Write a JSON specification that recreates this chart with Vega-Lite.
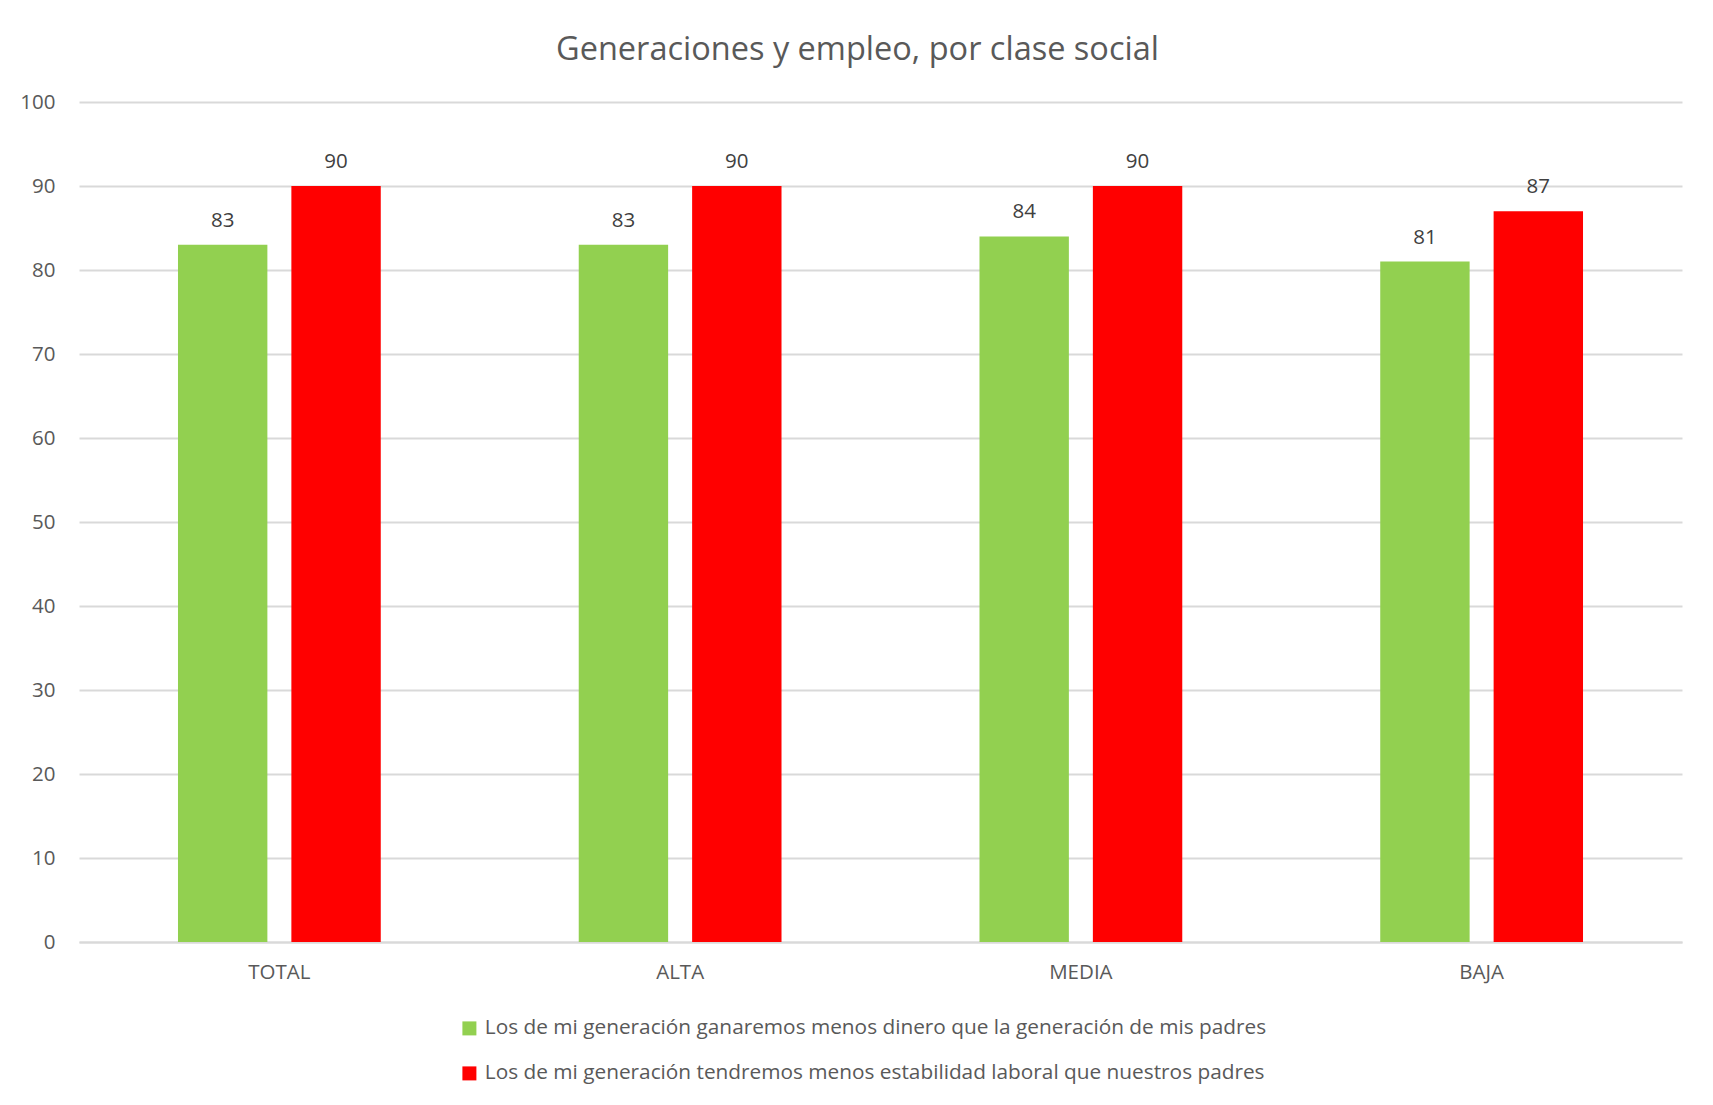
{
  "$schema": "https://vega.github.io/schema/vega-lite/v6.json",
  "width": 1603,
  "height": 840,
  "autosize": {"type": "none"},
  "padding": {"left": 79, "top": 102, "right": 31, "bottom": 163},
  "background": "white",
  "config": {"view": {"stroke": null}},
  "title": {"text": "Generaciones y empleo, por clase social", "fontSize": 32.5, "font": "Open Sans", "fontWeight": "normal", "color": "#595959", "dx": -23, "offset": 26, "anchor": "middle"},
  "data": {"values": [
    {"clase": "TOTAL", "serie": "Los de mi generación ganaremos menos dinero que la generación de mis padres", "valor": 83},
    {"clase": "TOTAL", "serie": "Los de mi generación tendremos menos estabilidad laboral que nuestros padres", "valor": 90},
    {"clase": "ALTA", "serie": "Los de mi generación ganaremos menos dinero que la generación de mis padres", "valor": 83},
    {"clase": "ALTA", "serie": "Los de mi generación tendremos menos estabilidad laboral que nuestros padres", "valor": 90},
    {"clase": "MEDIA", "serie": "Los de mi generación ganaremos menos dinero que la generación de mis padres", "valor": 84},
    {"clase": "MEDIA", "serie": "Los de mi generación tendremos menos estabilidad laboral que nuestros padres", "valor": 90},
    {"clase": "BAJA", "serie": "Los de mi generación ganaremos menos dinero que la generación de mis padres", "valor": 81},
    {"clase": "BAJA", "serie": "Los de mi generación tendremos menos estabilidad laboral que nuestros padres", "valor": 87}
  ]},
  "encoding": {
    "x": {"field": "clase", "type": "nominal", "sort": ["TOTAL", "ALTA", "MEDIA", "BAJA"],
      "scale": {"paddingInner": 0.494, "paddingOuter": 0.247},
      "axis": {"title": null, "labelAngle": 0, "ticks": false, "domainColor": "#D9D9D9", "domainWidth": 2, "labelPadding": 20, "labelFontSize": 20.5, "labelColor": "#595959", "labelFont": "Open Sans"}},
    "xOffset": {"field": "serie", "type": "nominal",
      "sort": ["Los de mi generación ganaremos menos dinero que la generación de mis padres", "Los de mi generación tendremos menos estabilidad laboral que nuestros padres"],
      "scale": {"paddingInner": 0.2116, "paddingOuter": 0}},
    "y": {"field": "valor", "type": "quantitative", "scale": {"domain": [0, 100], "nice": false},
      "axis": {"title": null, "values": [0, 10, 20, 30, 40, 50, 60, 70, 80, 90, 100], "domain": false, "ticks": false, "gridColor": "#D9D9D9", "gridWidth": 2, "labelPadding": 24, "labelFontSize": 20.5, "labelColor": "#595959", "labelFont": "Open Sans"}}
  },
  "layer": [
    {"mark": {"type": "bar"},
      "encoding": {"color": {"field": "serie", "type": "nominal",
        "scale": {"domain": ["Los de mi generación ganaremos menos dinero que la generación de mis padres", "Los de mi generación tendremos menos estabilidad laboral que nuestros padres"], "range": ["#92D050", "#FF0000"]},
        "legend": {"title": null, "orient": "none", "legendX": 380, "legendY": 916, "padding": 0, "direction": "vertical", "symbolType": "square", "symbolSize": 196, "symbolStrokeWidth": 0, "labelFontSize": 20.8, "labelFont": "Open Sans", "labelColor": "#595959", "labelOffset": 5, "rowPadding": 23, "labelLimit": 1000}}}},
    {"mark": {"type": "text", "baseline": "bottom", "dy": -14, "fontSize": 20.5, "font": "Open Sans", "color": "#404040"},
      "encoding": {"text": {"field": "valor", "type": "quantitative"}}}
  ]
}
